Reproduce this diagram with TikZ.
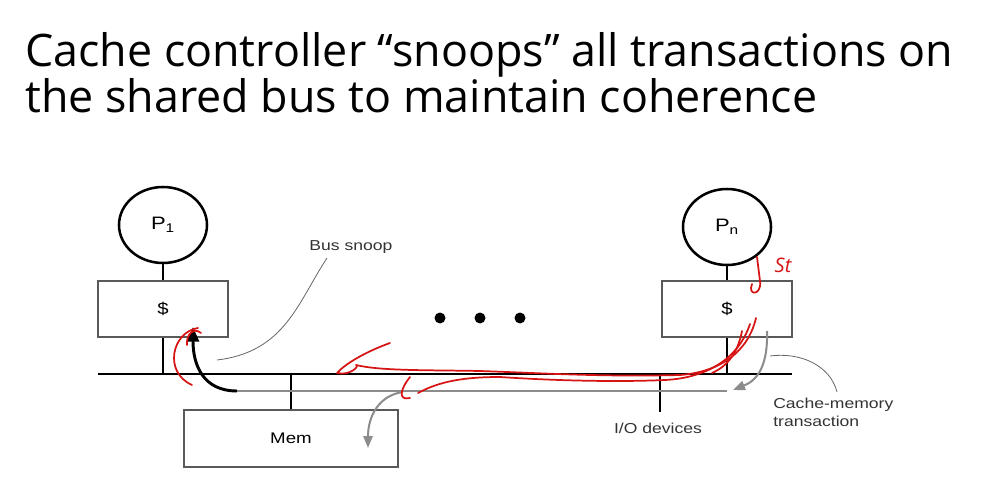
\documentclass[tikz,border=0pt]{standalone}
\usepackage{fontspec}
\setmainfont{Open Sans}
\newfontfamily\labelfont[FakeStretch=1.22]{Liberation Sans}
\usetikzlibrary{shapes.geometric,arrows.meta}
\definecolor{inkred}{RGB}{214,20,20}
\definecolor{linegray}{RGB}{140,140,140}
\tikzset{
  proc/.style={draw, ellipse, line width=1.9pt, minimum width=66pt, minimum height=57pt, inner sep=0pt, font=\labelfont\fontsize{13.5}{15}\selectfont},
  cachebox/.style={draw=black!65, line width=1.1pt, minimum width=97.5pt, minimum height=42pt, inner sep=0pt, font=\labelfont\fontsize{12.5}{14}\selectfont},
  lbl/.style={font=\labelfont\fontsize{10.8}{12.5}\selectfont, text=black!80, inner sep=0pt},
  wire/.style={line width=1.6pt},
  leader/.style={draw=black!60, line width=0.6pt},
  redink/.style={draw=inkred, line width=1.3pt, line cap=round, line join=round},
}
\begin{document}
\begin{tikzpicture}[x=0.75pt,y=-0.75pt]
  \fill[white] (0,0) rectangle (984,502);
  \useasboundingbox (0,0) rectangle (984,502);
  % title
  \node[anchor=base west, inner sep=0pt, font=\fontsize{33.6}{40}\selectfont] (title1) at (25,67) {Cache controller “snoops” all transactions on};
  \node[anchor=base west, inner sep=0pt, font=\fontsize{33.6}{40}\selectfont] (title2) at (25,113) {the shared bus to maintain coherence};
  % processors and caches
  \node[proc] (p1) at (163,225) {P\textsubscript{1}};
  \node[proc] (pn) at (727,227) {P\textsubscript{n}};
  \node[cachebox] (c1) at (163,309) {\$};
  \node[cachebox] (cn) at (727,309) {\$};
  \node[cachebox, minimum width=160.5pt, minimum height=42.75pt, font=\labelfont\fontsize{11.5}{13}\selectfont] (mem) at (291,438.5) {Mem};
  \draw[wire] (p1) -- (c1);
  \draw[wire] (pn) -- (cn);
  % shared bus
  \coordinate (busL) at (98,374);
  \coordinate (busR) at (792,374);
  \draw[line width=2.2pt] (busL) -- (busR);
  \draw[wire] (c1.south) -- (c1.south |- busL);
  \draw[wire] (cn.south) -- (cn.south |- busL);
  \draw[wire] (mem.north) -- (mem.north |- busL);
  \coordinate (io) at (660,412);
  \draw[wire] (io |- busL) -- (io);
  \node[lbl, anchor=north] (iolbl) at (658,423) {I/O devices};
  \foreach \x in {440,480,520}
    \fill (\x,318) circle (5.5);
  % transaction path
  \coordinate (gl) at (237,391);
  \coordinate (gr) at (727,391);
  \draw[draw=linegray, line width=1.5pt] (gl) -- (gr);
  \draw[line width=2.2pt, -{Triangle[length=11pt,width=9pt]}] (gl) .. controls (203,391) and (193,365) .. (193,327);
  \draw[draw=linegray, line width=1.5pt, -{Triangle[length=9pt,width=7pt]}] (403,392) .. controls (380,395) and (368,415) .. (368,448);
  \draw[draw=linegray, line width=1.5pt, -{Triangle[length=9pt,width=7pt]}] (767,331) .. controls (768,365) and (758,380) .. (733,390);
  % labels
  \node[lbl] (snoop) at (351,247) {Bus snoop};
  \draw[leader] (327,258) .. controls (298,302) and (285,352) .. (217,360);
  \node[lbl, anchor=north west, align=left] (cmt) at (773,398) {Cache-memory\\[1pt]transaction};
  \draw[leader] (837,392) .. controls (830,365) and (800,352) .. (770,356);
  % hand-drawn marks
  \draw[redink] (198,328) .. controls (172,332) and (163,372) .. (192,385);
  \draw[redink] (187,345) .. controls (186,334) and (194,327) .. (201,333);
  \draw[redink] (390,343) .. controls (365,352) and (345,364) .. (337,373)
    .. controls (350,376) and (360,366) .. (356,365)
    .. controls (380,371) and (430,370) .. (480,371)
    .. controls (540,373) and (600,377) .. (680,375) .. controls (720,372) and (748,352) .. (756,318);
  \draw[redink] (418,393) .. controls (440,381) and (465,377) .. (500,377)
    .. controls (560,381) and (620,382) .. (665,380) .. controls (705,378) and (738,360) .. (750,324);
  \draw[redink] (410,377) .. controls (401,388) and (397,401) .. (410,398);
  \draw[redink] (742,331) .. controls (738,352) and (728,366) .. (712,373);
  \draw[redink] (757,257) -- (760,281) .. controls (762,296) and (747,296) .. (752,284);
  \node[text=inkred, inner sep=0pt, font=\itshape\fontsize{15}{16}\selectfont] (stlbl) at (783,265) {St};
\end{tikzpicture}
\end{document}
